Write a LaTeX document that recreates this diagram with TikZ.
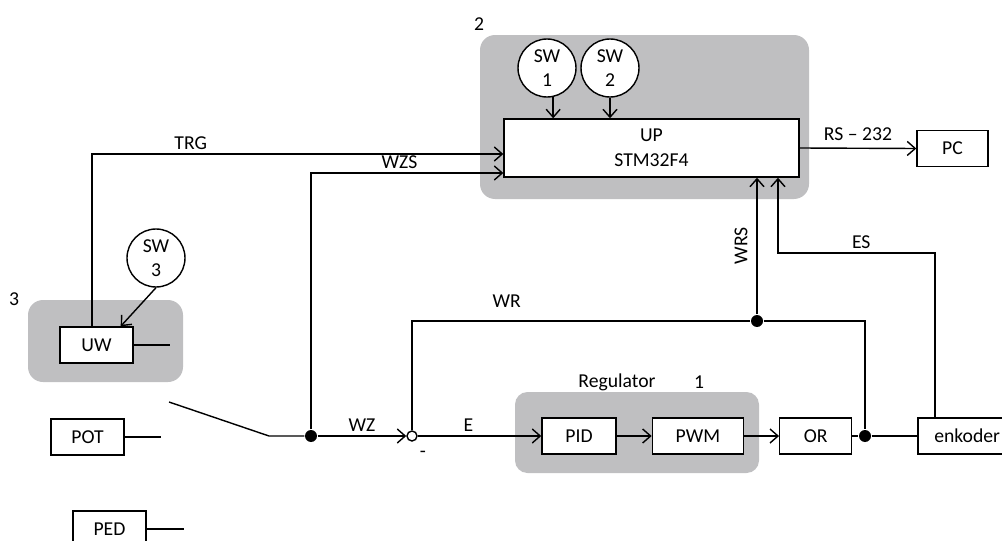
\documentclass[tikz,border=0pt]{standalone}
\usepackage{fontspec}
\setmainfont{Carlito}
\usepackage{tikz}
\usetikzlibrary{positioning,arrows.meta}
\usepackage{xcolor}
\definecolor{panelgray}{RGB}{191,191,193}
\tikzset{
  blk/.style={draw,fill=white,minimum height=0.72cm,inner sep=0pt},
  swc/.style={draw,fill=white,circle,minimum size=1.16cm,inner sep=0pt,align=center},
  jdot/.style={circle,fill,inner sep=0pt,minimum size=0.24cm},
  tag/.style={inner sep=2pt}
}

\begin{document}
\begin{tikzpicture}[x=0.02cm,y=-0.02cm,>={Straight Barb[length=1.6mm,width=2.8mm]},line width=0.8pt,node distance=0.7cm,font=\fontsize{11.2}{14}\selectfont]
\useasboundingbox (0,0) rectangle (1002,541);
\fill[panelgray,rounded corners=0.3cm] (480,35) rectangle (809,199);
\fill[panelgray,rounded corners=0.3cm] (28,300) rectangle (183,382);
\fill[panelgray,rounded corners=0.25cm] (515,392) rectangle (759,473);
\node (n2) at (479,24) {2};
\node (n3) at (14,299) {3};
\node (reg) at (617,382) {Regulator};
\node (n1) at (699,382) {1};
\node[blk,minimum width=5.9cm,minimum height=1.16cm,align=center] (up) at (651.5,148) {UP\\STM32F4};
\node[blk,minimum width=1.42cm] (pc) at (952.5,148.5) {PC};
\node[swc] (sw1) at (547,68) {SW\\1};
\node[swc] (sw2) at (610,68) {SW\\2};
\node[swc] (sw3) at (156,258) {SW\\3};
\node[blk,minimum width=1.46cm] (uw) at (96.5,345) {UW};
\node[blk,minimum width=1.46cm] (pot) at (87.5,437) {POT};
\node[blk,minimum width=1.46cm] (ped) at (109.5,529) {PED};
\node[blk,minimum width=1.48cm] (pid) at (579,436) {PID};
\node[blk,minimum width=1.82cm,right=of pid] (pwm) {PWM};
\node[blk,minimum width=1.44cm,right=of pwm] (or) {OR};
\node[blk,minimum width=1.96cm,right=1.3cm of or] (enc) {enkoder};
\node[jdot] (dz) at (311,436) {};
\node[draw,circle,fill=white,inner sep=0pt,minimum size=0.2cm] (sum) at (412,436) {};
\node[jdot] (dr) at (865,436) {};
\node[jdot] (dw) at (757,321) {};
\node (neg) at (423,454) {-};
\coordinate (swa) at (169,402);
\coordinate (swb) at (269,436);
\coordinate (est) at (778,253);
\draw (uw.east) -- ++(36,0);
\draw (pot.east) -- ++(36,0);
\draw (ped.east) -- ++(37,0);
\draw (swa) -- (swb) -- (dz);
\draw[->] (sw1.-78) -- (sw1.-78 |- up.north);
\draw[->] (sw2.south) -- (sw2.south |- up.north);
\draw[->] (sw3.south) -- ([xshift=-0.26cm]uw.north east);
\draw[->] ([xshift=-0.09cm]uw.north) |- ([yshift=-0.12cm]up.west) node[tag,pos=0.62,above]{TRG};
\draw[->] (dz) |- ([yshift=-0.5cm]up.west) node[tag,pos=0.73,above]{WZS};
\draw[->] (dz) -- (sum) node[tag,midway,above]{WZ};
\draw[->] (sum) -- (pid) node[tag,pos=0.41,above]{E};
\draw[->] (pid) -- (pwm);
\draw[->] (pwm) -- (or);
\draw (or) -- (dr) -- (enc);
\draw (sum) |- (dw) node[tag,pos=0.64,above=5pt]{WR} -| (dr);
\draw[->] (dw) -- (dw |- up.south) node[tag,midway,sloped,above=3pt]{WRS};
\draw[->] ([xshift=-0.64cm]enc.north) |- (est) node[tag,pos=0.735,above]{ES} -- (est |- up.south);
\draw[->] (up.east) -- (pc.west) node[tag,midway,above=2pt]{RS – 232};
\end{tikzpicture}
\end{document}
